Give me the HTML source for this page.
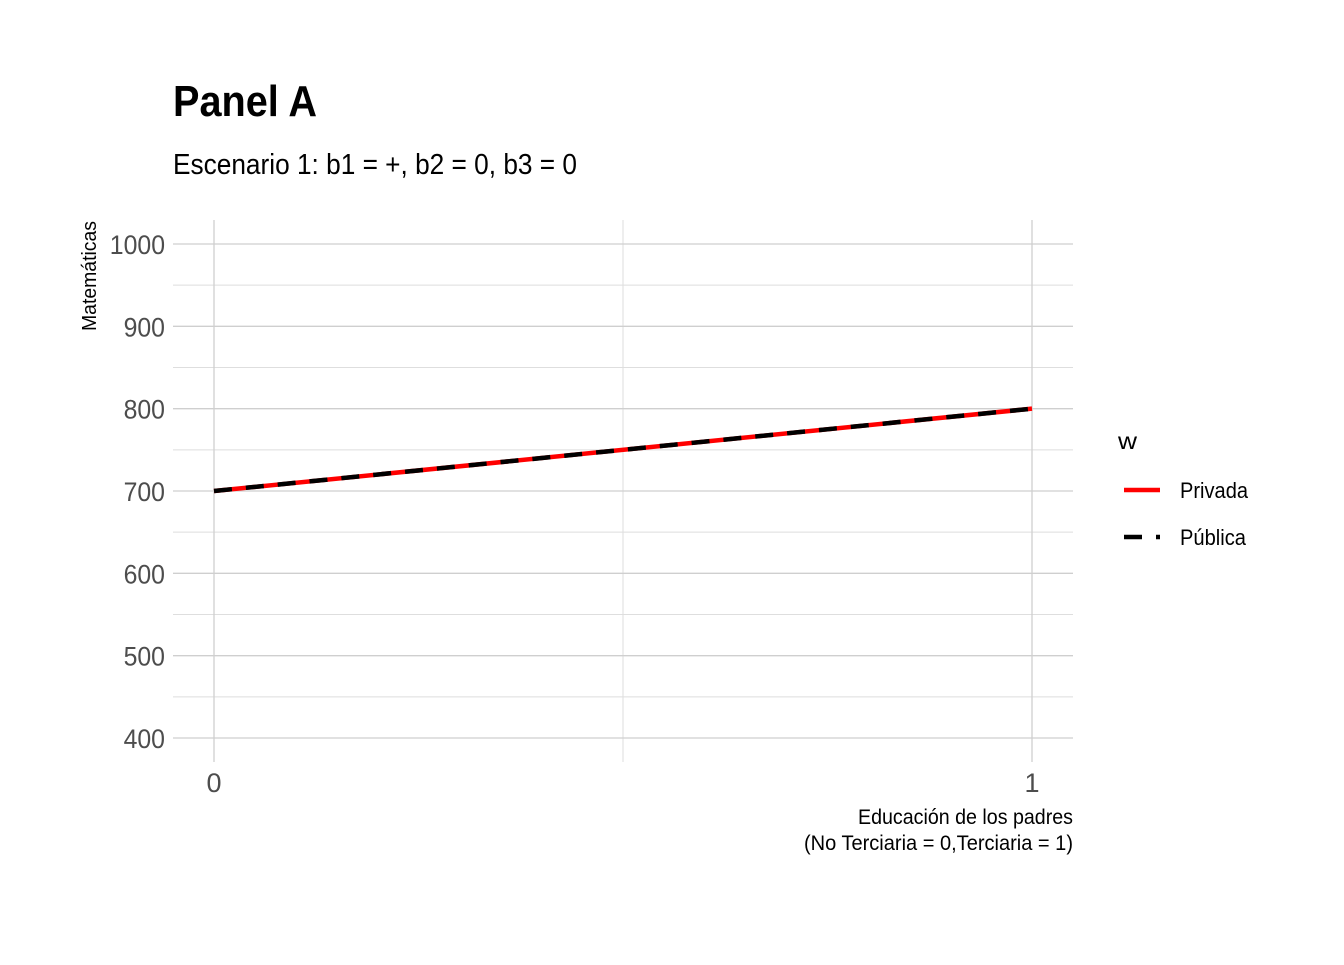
<!DOCTYPE html>
<html><head><meta charset="utf-8"><style>
body{margin:0;background:#fff}
svg text{font-family:"Liberation Sans Narrow","Liberation Sans",sans-serif}
</style></head><body>
<svg id="chart" width="1344" height="960" xmlns="http://www.w3.org/2000/svg">
<text x="173" y="116" font-size="44" font-weight="bold" fill="#000" textLength="144" lengthAdjust="spacingAndGlyphs">Panel A</text>
<text x="173" y="174" font-size="29" fill="#000" textLength="404" lengthAdjust="spacingAndGlyphs">Escenario 1: b1 = +, b2 = 0, b3 = 0</text>
<g id="grid"></g>
<g id="marks"></g>
<text transform="translate(96,276) rotate(-90)" text-anchor="middle" font-size="20" fill="#000" textLength="110" lengthAdjust="spacingAndGlyphs">Matemáticas</text>
<text x="1073" y="824" text-anchor="end" font-size="21" fill="#000" textLength="215" lengthAdjust="spacingAndGlyphs">Educación de los padres</text>
<text x="1073" y="850" text-anchor="end" font-size="21" fill="#000" textLength="269" lengthAdjust="spacingAndGlyphs">(No Terciaria = 0,Terciaria = 1)</text>
<g>
<text x="1118" y="449" font-size="23" fill="#000" textLength="19" lengthAdjust="spacingAndGlyphs">w</text>
<line x1="1124" y1="490" x2="1160" y2="490" stroke="#ff0000" stroke-width="4.5"/>
<text x="1180" y="498" font-size="22" fill="#000" textLength="68" lengthAdjust="spacingAndGlyphs">Privada</text>
<line x1="1124" y1="537" x2="1160" y2="537" stroke="#000" stroke-width="4.5" stroke-dasharray="18 14"/>
<text x="1180" y="545" font-size="22" fill="#000" textLength="66" lengthAdjust="spacingAndGlyphs">Pública</text>
</g>
</svg>
<script>
const xCategories=[0,1];
const xMidBreaks=[0.5];
const yTicks=[400,500,600,700,800,900,1000];
const yMinor=[450,550,650,750,850,950];
const privadaValues=[700,800];
const publicaValues=[700,800];
const ns="http://www.w3.org/2000/svg";
const X=v=>214+v*(1032-214);
const Y=v=>738-(v-400)*(738-244)/600;
const L=173,R=1073,T=220,B=762;
const grid=document.getElementById('grid'),marks=document.getElementById('marks');
function mk(tag,attrs,parent){const e=document.createElementNS(ns,tag);for(const k in attrs)e.setAttribute(k,attrs[k]);parent.appendChild(e);return e;}
yMinor.forEach(v=>{const l=mk('line',{x1:L,x2:R,y1:Y(v),y2:Y(v),stroke:'#dedede','stroke-width':1},grid);

});
xMidBreaks.forEach(v=>{const l=mk('line',{x1:X(v),x2:X(v),y1:T,y2:B,stroke:'#dedede','stroke-width':1},grid);

});
yTicks.forEach(v=>{const l=mk('line',{x1:L,x2:R,y1:Y(v),y2:Y(v),stroke:'#cfcfcf','stroke-width':1.3},grid);


const t=mk('text',{x:165,y:Y(v)+10,'text-anchor':'end','font-size':27,fill:'#4d4d4d'},grid);t.textContent=v;


t.setAttribute('textLength',String(v).length*13.8);
t.setAttribute('lengthAdjust','spacingAndGlyphs');});
xCategories.forEach(v=>{const l=mk('line',{x1:X(v),x2:X(v),y1:T,y2:B,stroke:'#cfcfcf','stroke-width':1.3},grid);


const t=mk('text',{x:X(v),y:792,'text-anchor':'middle','font-size':27,fill:'#4d4d4d'},grid);t.textContent=v;

});
const pts=a=>a.map((v,i)=>X(xCategories[i])+','+Y(v)).join(' ');
const p1=mk('polyline',{points:pts(privadaValues),fill:'none',stroke:'#ff0000','stroke-width':4.5},marks);


const p2=mk('polyline',{points:pts(publicaValues),fill:'none',stroke:'#000','stroke-width':4.5,'stroke-dasharray':'18 14'},marks);


</script>
</body></html>
